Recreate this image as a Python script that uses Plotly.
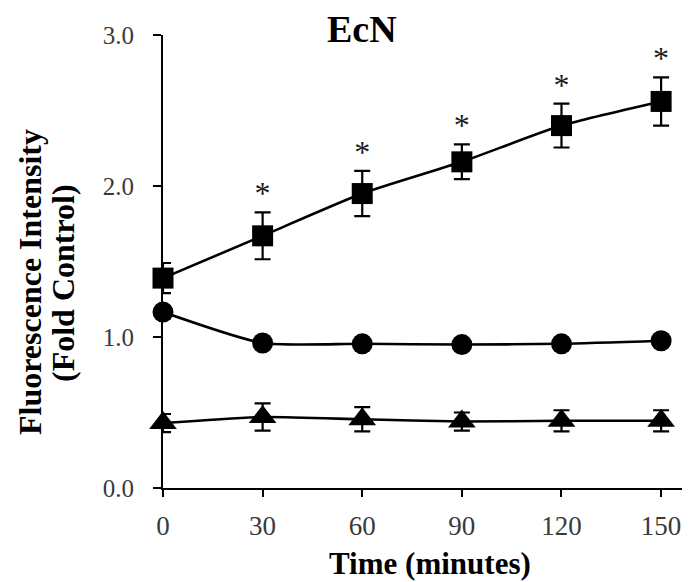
import plotly.graph_objects as go

time = [0, 30, 60, 90, 120, 150]
x_ticks = [0, 30, 60, 90, 120, 150]
y_ticks = [0.0, 1.0, 2.0, 3.0]
y_tick_labels = ["0.0", "1.0", "2.0", "3.0"]

square_vals = [1.39, 1.67, 1.95, 2.16, 2.40, 2.56]
square_err = [0.10, 0.155, 0.15, 0.115, 0.145, 0.16]
circle_vals = [1.165, 0.96, 0.955, 0.95, 0.955, 0.975]
circle_err = [0.04, 0.02, 0.02, 0.02, 0.02, 0.02]
triangle_vals = [0.43, 0.47, 0.455, 0.44, 0.445, 0.445]
triangle_err = [0.06, 0.09, 0.08, 0.06, 0.07, 0.07]
sig_mark = ["", "*", "*", "*", "*", "*"]

FONT = "Liberation Serif, Times New Roman, serif"
BLACK = "#000000"
TICK_COLOR = "#3a3a3a"

# page body has an 8px margin; figure sized so the plot sits like the reference
OFF = 8
W, H = 690 - OFF, 582 - OFF
L, R, T, B = 163 - OFF, 0, 35 - OFF, H - (488 - OFF)
pw, ph = W - L - R, H - T - B

fig = go.Figure()


def add_series(vals, errs, symbol, size):
    fig.add_trace(go.Scatter(
        x=time, y=vals,
        mode="lines+markers",
        line=dict(color=BLACK, width=2.6, shape="spline", smoothing=0.6),
        marker=dict(symbol=symbol, size=size, color=BLACK),
        error_y=dict(type="data", array=errs, visible=True,
                     color=BLACK, thickness=2.2, width=8),
        cliponaxis=False,
        showlegend=False,
    ))


add_series(triangle_vals, triangle_err, "triangle-up", 24)
add_series(circle_vals, circle_err, "circle", 21)
add_series(square_vals, square_err, "square", 21)

# significance asterisks above the square error bars
fig.add_trace(go.Scatter(
    x=time,
    y=[v + e for v, e in zip(square_vals, square_err)],
    mode="text",
    text=sig_mark,
    textposition="top center",
    textfont=dict(family=FONT, size=32, color="#1a1a1a"),
    cliponaxis=False,
    showlegend=False,
))

fig.update_layout(
    width=W, height=H,
    margin=dict(l=L, r=R, t=T, b=B, pad=0),
    paper_bgcolor="white",
    plot_bgcolor="white",
    font=dict(family=FONT, color=TICK_COLOR),
    xaxis=dict(
        range=[0, 158.7],
        tickvals=x_ticks,
        ticktext=[str(t) for t in x_ticks],
        ticks="outside", ticklen=7, tickwidth=2, tickcolor=BLACK,
        showline=True, linecolor=BLACK, linewidth=2,
        showgrid=False, zeroline=False,
        ticklabelstandoff=6,
        tickfont=dict(family=FONT, size=27, color=TICK_COLOR),
    ),
    yaxis=dict(
        range=[0, 3.0],
        tickvals=y_ticks,
        ticktext=y_tick_labels,
        ticks="outside", ticklen=8, tickwidth=2, tickcolor=BLACK,
        showline=True, linecolor=BLACK, linewidth=2,
        showgrid=False, zeroline=False,
        ticklabelstandoff=14,
        tickfont=dict(family=FONT, size=25, color=TICK_COLOR),
    ),
)


def px(xs, ys):
    """screen pixel -> paper coords"""
    xf, yf = xs - OFF, ys - OFF
    return (xf - L) / pw, (H - B - yf) / ph


def label(text, xs, ys, size, angle=0):
    x, y = px(xs, ys)
    fig.add_annotation(text=text, x=x, y=y, xref="paper", yref="paper",
                       xanchor="center", yanchor="middle", textangle=angle,
                       borderpad=0,
                       showarrow=False, font=dict(family=FONT, size=size, color=BLACK))


label("<b>EcN</b>", 362, 29, 38)
label("<b>Time (minutes)</b>", 430, 563, 31)
label("<b>Fluorescence Intensity</b>", 30, 282, 32, -90)
label("<b>(Fold Control)</b>", 63, 283, 32, -90)

fig.write_html("out.html")
